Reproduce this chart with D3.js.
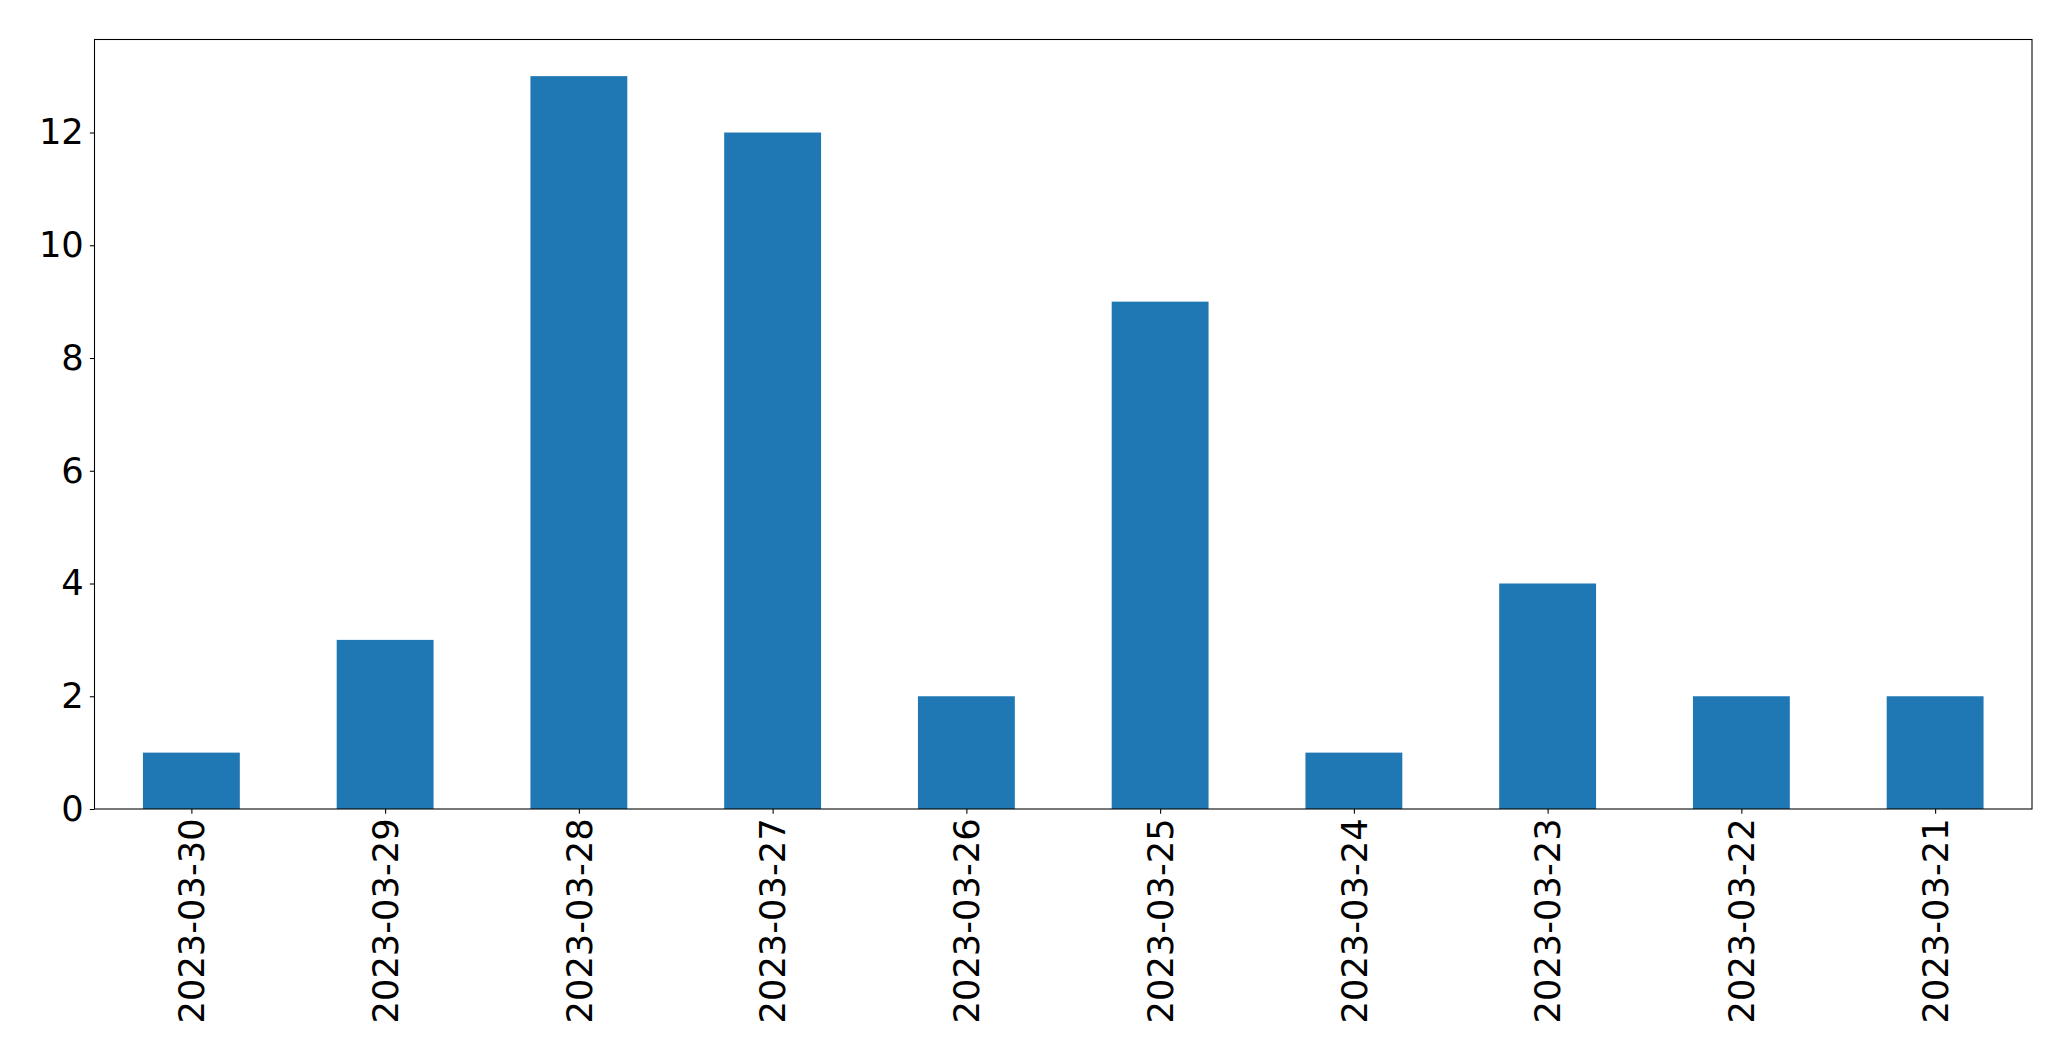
<!DOCTYPE html>
<html>
<head>
<meta charset="utf-8">
<script src="https://cdn.jsdelivr.net/npm/d3@7"></script>
<style>
html,body{margin:0;padding:0;background:#fff;}
svg{display:block;}
</style>
</head>
<body>
<script>
const categories = ["2023-03-30","2023-03-29","2023-03-28","2023-03-27","2023-03-26","2023-03-25","2023-03-24","2023-03-23","2023-03-22","2023-03-21"];
const values = [1,3,13,12,2,9,1,4,2,2];
const yTicks = [0,2,4,6,8,10,12];

const W = 2071, H = 1061;
const m = {left:94.5, top:39.5, right:2032, bottom:809};
const fontSize = 35.3;

const svg = d3.select("body").append("svg").attr("width", W).attr("height", H);

const x = d3.scaleLinear().domain([-0.5, categories.length - 0.5]).range([m.left, m.right]);
const y = d3.scaleLinear().domain([0, d3.max(values) * 1.05]).range([m.bottom, m.top]);
const bw = x(0.25) - x(-0.25);

svg.append("g").selectAll("rect").data(values).join("rect")
  .attr("x", (d,i) => x(i) - bw/2)
  .attr("width", bw)
  .attr("y", d => y(d))
  .attr("height", d => y(0) - y(d))
  .attr("fill", "#1f77b4");

const xAxis = d3.axisBottom(x).tickValues(d3.range(categories.length))
  .tickFormat(i => categories[i]).tickSize(4.7).tickPadding(4.7).tickSizeOuter(0);
const gx = svg.append("g").attr("transform", `translate(0,${m.bottom})`).call(xAxis);
gx.select(".domain").remove();
gx.selectAll(".tick line").attr("stroke", "#000").attr("stroke-width", 1.07);
gx.selectAll(".tick text")
  .attr("font-family", "DejaVu Sans")
  .attr("font-size", fontSize)
  .attr("fill", "#000")
  .attr("transform", "rotate(-90)")
  .attr("text-anchor", "end")
  .attr("x", -9.4)
  .attr("y", 0)
  .attr("dy", "0.35em");

const yAxis = d3.axisLeft(y).tickValues(yTicks).tickFormat(d3.format("d"))
  .tickSize(4.7).tickPadding(6).tickSizeOuter(0);
const gy = svg.append("g").attr("transform", `translate(${m.left},0)`).call(yAxis);
gy.select(".domain").remove();
gy.selectAll(".tick line").attr("stroke", "#000").attr("stroke-width", 1.07);
gy.selectAll(".tick text")
  .attr("font-family", "DejaVu Sans")
  .attr("font-size", fontSize)
  .attr("fill", "#000");

svg.append("rect")
  .attr("x", m.left).attr("y", m.top)
  .attr("width", m.right - m.left).attr("height", m.bottom - m.top)
  .attr("fill", "none").attr("stroke", "#000").attr("stroke-width", 1.07);
</script>
</body>
</html>
